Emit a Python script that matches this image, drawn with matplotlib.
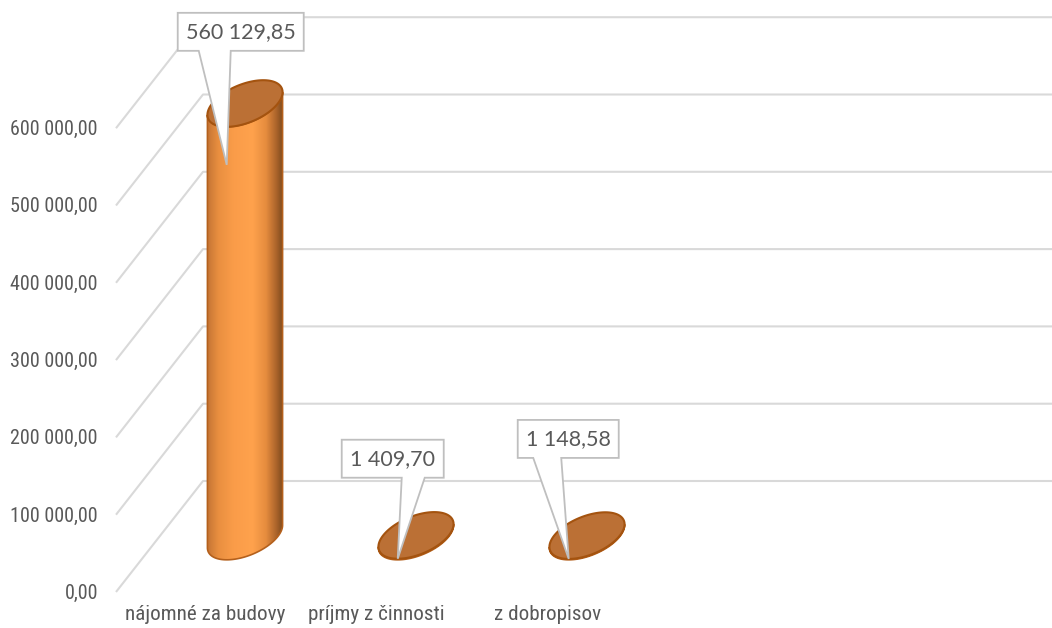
"""3D-style cylinder column chart: príjmy (nájomné, činnosť, dobropisy)."""
import numpy as np
import matplotlib
matplotlib.use("Agg")
import matplotlib.pyplot as plt
from matplotlib.colors import LinearSegmentedColormap
from matplotlib.patches import Polygon
from matplotlib.transforms import IdentityTransform

# ── data ──
categories = ["nájomné za budovy", "príjmy z činnosti", "z dobropisov"]
values = [560129.85, 1409.70, 1148.58]
value_labels = ["560 129,85", "1 409,70", "1 148,58"]
ticks = [0, 100000, 200000, 300000, 400000, 500000, 600000]
tick_labels = ["0,00", "100 000,00", "200 000,00", "300 000,00",
               "400 000,00", "500 000,00", "600 000,00"]

# ── layout (pixels of a 1052x628 canvas) ──
W, H = 1052, 628
PX_PER_CAT = 171.0
PX_PER_VAL = 77.3 / 100000
FLOOR_LEFT_PX = 116.0
ZERO_PX = 592.0
DEPTH_PX = (87.0, 111.0)          # shift from front to back wall
DX = DEPTH_PX[0] / PX_PER_CAT     # depth shift in category units
DY = DEPTH_PX[1] / PX_PER_VAL     # depth shift in value units
R_X, R_D = 0.192, 0.21            # cylinder radius (x in cats, depth fraction)

# callouts: box centre relative to tip (image px), box width, wedge base, tip drop
BOX_OFF = [(14, -133), (-5, -100), (-0.5, -120)]
BOX_W = [126, 102, 101]
BOX_H = 38
WEDGE = [(-42, -10), (9, 32), (-35, -7)]
TIP_DROP = [38, 0, 0]

GRID = "#D9D9D9"
TXT = "#595959"
NARROW = ["Roboto Condensed", "Liberation Sans Narrow", "Arial Narrow",
          "Liberation Sans"]

body_cmap = LinearSegmentedColormap.from_list("cyl", [
    (0.00, "#C47434"), (0.15, "#E98F40"), (0.35, "#FA9C49"),
    (0.60, "#FFA24D"), (0.78, "#E58C3E"), (0.92, "#A9622A"),
    (1.00, "#7C4A1E")])


def proj(x, v, d):
    """category x, value v, depth d (0 front .. 1 back) -> data coords."""
    return x + d * DX, v + d * DY


fig = plt.figure(figsize=(W / 100, H / 100), dpi=100)
ax = fig.add_axes([0, 0, 1, 1])
ax.axis("off")
xlim = ((0 - FLOOR_LEFT_PX) / PX_PER_CAT, (W - FLOOR_LEFT_PX) / PX_PER_CAT)
ylim = (-(H - ZERO_PX) / PX_PER_VAL, ZERO_PX / PX_PER_VAL)

# gridlines: diagonal on the side + horizontal on the back wall
for v in ticks:
    fx, fy = proj(0, v, 0)
    bx, by = proj(0, v, 1)
    ax.plot([fx, bx, xlim[1] + 1], [fy, by, by], color=GRID, lw=1.5,
            zorder=1, solid_capstyle="butt")

# tick labels on the front edge
for v, lab in zip(ticks, tick_labels):
    ax.annotate(lab, (0, v), xytext=(-13, -1), textcoords="offset points",
                ha="right", va="center", fontsize=14.5, color=TXT,
                family=NARROW)

# category labels
for i, cat in enumerate(categories):
    ax.annotate(cat, (i + 0.5, 0), xytext=(3, -9), textcoords="offset points",
                ha="center", va="top", fontsize=15.2, color=TXT,
                family=NARROW)

th0 = np.arctan2(R_D * DX, R_X)   # silhouette angle
tips = []
for i, v in enumerate(values):
    cx = i + 0.5

    def ring(th, level):
        return proj(cx + R_X * np.cos(th), level, 0.5 + R_D * np.sin(th))

    front = np.linspace(th0 + np.pi, th0 + 2 * np.pi, 80)
    bx, by = ring(front, 0)
    tx, ty = ring(front[::-1], v)
    body = Polygon(np.column_stack([np.r_[bx, tx], np.r_[by, ty]]),
                   closed=True, facecolor="none", edgecolor="#B4601C",
                   lw=1.2, zorder=3)
    ax.add_patch(body)
    grad = np.linspace(0, 1, 256)[None, :]
    im = ax.imshow(grad, cmap=body_cmap, aspect="auto", zorder=2.9,
                   extent=[bx.min(), bx.max(), by.min(), ty.max()],
                   interpolation="bilinear")
    im.set_clip_path(body)

    full = np.linspace(0, 2 * np.pi, 160)
    ex, ey = ring(full, v)
    ax.add_patch(Polygon(np.column_stack([ex, ey]), closed=True,
                         facecolor="#BB7035", edgecolor="#A4530F",
                         lw=1.5, zorder=4))
    tips.append(ring(-np.pi / 2, v))

ax.set_xlim(xlim)
ax.set_ylim(ylim)

# callout data labels, built in display pixels
for i, (tx, ty) in enumerate(tips):
    px, py = ax.transData.transform((tx, ty))
    py -= TIP_DROP[i]
    cxp = px + BOX_OFF[i][0]
    cyp = py - BOX_OFF[i][1]
    w2, h2 = BOX_W[i] / 2, BOX_H / 2
    wl, wr = WEDGE[i]
    pts = [(cxp - w2, cyp + h2), (cxp + w2, cyp + h2), (cxp + w2, cyp - h2),
           (cxp + wr, cyp - h2), (px, py), (cxp + wl, cyp - h2),
           (cxp - w2, cyp - h2)]
    fig.patches.append(Polygon(pts, closed=True, facecolor="white",
                               edgecolor="#BFBFBF", lw=1.3,
                               transform=IdentityTransform(), zorder=5))
    fig.text(cxp / W, cyp / H, value_labels[i], ha="center", va="center",
             fontsize=15.5, color=TXT, family=["Lato", "DejaVu Sans"],
             zorder=6)

fig.savefig("out.png", dpi=100)
